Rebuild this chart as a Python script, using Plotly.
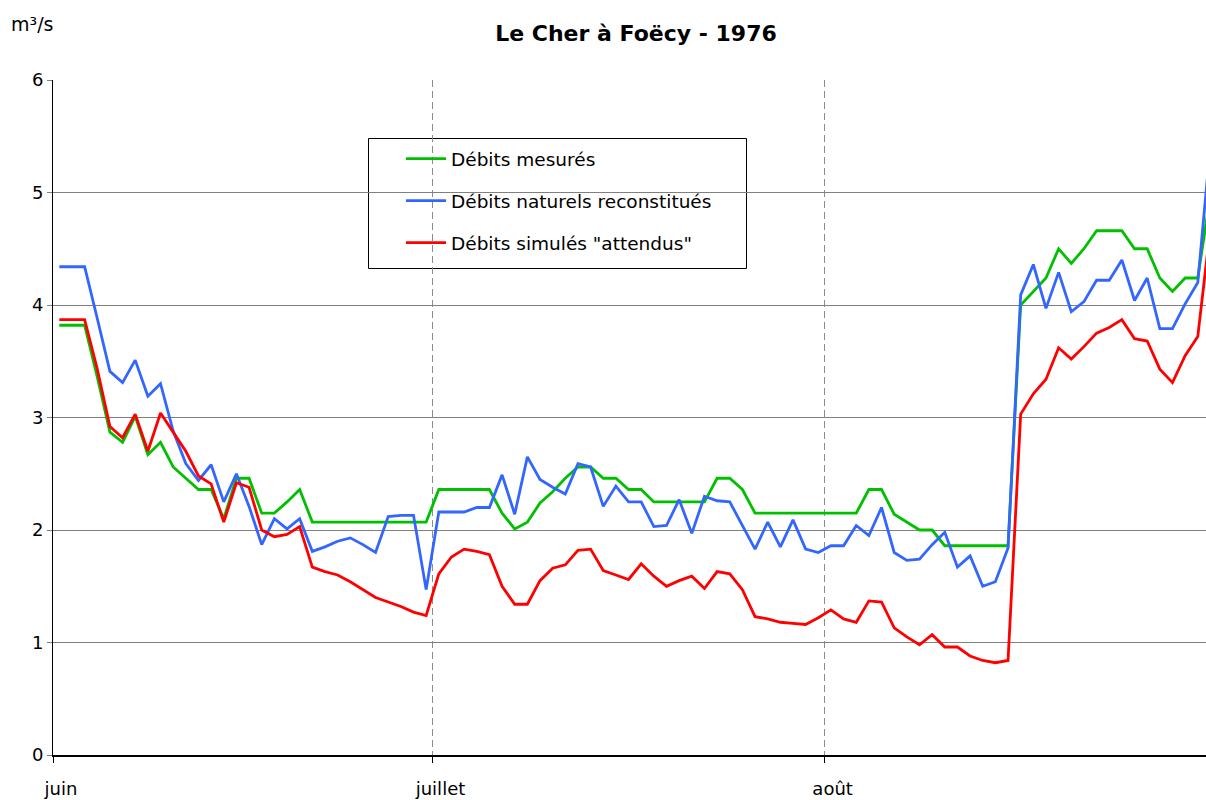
import pandas as pd
import plotly.graph_objects as go

# Daily values, 1 June 1976 -> 31 August 1976 (plotted at mid-day)
dates = pd.date_range("1976-06-01 12:00", periods=92, freq="D")

mesures = [3.82, 3.82, 3.82, 3.36, 2.87, 2.78, 3.01, 2.67, 2.78, 2.56,
           2.46, 2.36, 2.36, 2.10, 2.46, 2.46, 2.15, 2.15, 2.25, 2.36,
           2.07, 2.07, 2.07, 2.07, 2.07, 2.07, 2.07, 2.07, 2.07, 2.07,
           2.36, 2.36, 2.36, 2.36, 2.36, 2.15, 2.01, 2.07, 2.24, 2.34,
           2.46, 2.56, 2.56, 2.46, 2.46, 2.36, 2.36, 2.25, 2.25, 2.25,
           2.25, 2.25, 2.46, 2.46, 2.36, 2.15, 2.15, 2.15, 2.15, 2.15,
           2.15, 2.15, 2.15, 2.15, 2.36, 2.36, 2.14, 2.07, 2.00, 2.00,
           1.86, 1.86, 1.86, 1.86, 1.86, 1.86, 4.00, 4.12, 4.24, 4.50,
           4.37, 4.50, 4.66, 4.66, 4.66, 4.50, 4.50, 4.24, 4.12, 4.24,
           4.24, 4.98]

naturels = [4.34, 4.34, 4.34, 3.88, 3.41, 3.31, 3.51, 3.19, 3.30, 2.88,
            2.59, 2.44, 2.58, 2.25, 2.50, 2.21, 1.87, 2.10, 2.01, 2.10,
            1.81, 1.85, 1.90, 1.93, 1.87, 1.80, 2.12, 2.13, 2.13, 1.47,
            2.16, 2.16, 2.16, 2.20, 2.20, 2.49, 2.14, 2.65, 2.45, 2.38,
            2.32, 2.59, 2.56, 2.21, 2.39, 2.25, 2.25, 2.03, 2.04, 2.27,
            1.97, 2.30, 2.26, 2.25, 2.04, 1.83, 2.07, 1.85, 2.09, 1.83,
            1.80, 1.86, 1.86, 2.04, 1.95, 2.20, 1.80, 1.73, 1.74, 1.87,
            1.98, 1.67, 1.77, 1.50, 1.54, 1.84, 4.09, 4.36, 3.97, 4.29,
            3.94, 4.03, 4.22, 4.22, 4.40, 4.04, 4.24, 3.79, 3.79, 4.01,
            4.20, 5.43]

simules = [3.87, 3.87, 3.87, 3.43, 2.92, 2.82, 3.03, 2.70, 3.04, 2.87,
           2.70, 2.48, 2.41, 2.07, 2.42, 2.38, 2.00, 1.94, 1.96, 2.03,
           1.67, 1.63, 1.60, 1.54, 1.47, 1.40, 1.36, 1.32, 1.27, 1.24,
           1.61, 1.76, 1.83, 1.81, 1.78, 1.50, 1.34, 1.34, 1.55, 1.66,
           1.69, 1.82, 1.83, 1.64, 1.60, 1.56, 1.70, 1.59, 1.50, 1.55,
           1.59, 1.48, 1.63, 1.61, 1.47, 1.23, 1.21, 1.18, 1.17, 1.16,
           1.22, 1.29, 1.21, 1.18, 1.37, 1.36, 1.13, 1.05, 0.98, 1.07,
           0.96, 0.96, 0.88, 0.84, 0.82, 0.84, 3.03, 3.21, 3.34, 3.62,
           3.52, 3.63, 3.75, 3.80, 3.87, 3.70, 3.68, 3.43, 3.31, 3.55,
           3.72, 4.69]

month_ticks = ["1976-06-01", "1976-07-01", "1976-08-01"]
month_labels = ["juin", "juillet", "août"]
y_ticks = [0, 1, 2, 3, 4, 5, 6]

series = [
    ("Débits mesurés", mesures, "#00C000"),
    ("Débits naturels reconstitués", naturels, "#3366FF"),
    ("Débits simulés \"attendus\"", simules, "#FF0000"),
]

FONT = "DejaVu Sans"

fig = go.Figure()
for i, (name, vals, col) in enumerate(series):
    fig.add_trace(go.Scatter(
        x=dates, y=vals, mode="lines", name=name,
        line=dict(color=col, width=2.8),
        legendgroup=f"g{i}",
    ))

W, H = 1206, 800
L, R, T, B = 53, 0, 80, 45
pw, ph = W - L - R, H - T - B

def px_x(p):
    return (p - L) / pw

def px_y(p):
    return (H - B - p) / ph

fig.update_layout(
    width=W, height=H,
    margin=dict(l=L, r=R, t=T, b=B, pad=0),
    paper_bgcolor="white", plot_bgcolor="white",
    font=dict(family=FONT, size=18, color="black"),
    title=dict(text="<b>Le Cher à Foëcy - 1976</b>", x=636 / W, xanchor="center",
               y=1 - 33 / H, yanchor="middle",
               font=dict(family=FONT, size=22, color="black")),
    xaxis=dict(
        type="date",
        range=["1976-06-01 00:00", "1976-08-31 03:36"],
        tickvals=month_ticks, ticktext=month_labels,
        showgrid=True, gridcolor="#8c8c8c", griddash="7px,4px", gridwidth=1,
        showline=True, linecolor="black", linewidth=1.5,
        ticks="outside", ticklen=6, tickcolor="black",
        ticklabelshift=8, ticklabelstandoff=11,
        tickfont=dict(family=FONT, size=18),
        zeroline=False, fixedrange=True,
    ),
    yaxis=dict(
        range=[0, 6], tickvals=y_ticks,
        showgrid=True, gridcolor="#808080", gridwidth=1,
        showline=True, linecolor="black", linewidth=1,
        ticks="outside", ticklen=5, tickcolor="#808080",
        tickfont=dict(family=FONT, size=18),
        zeroline=False, fixedrange=True,
    ),
    showlegend=True,
    legend=dict(
        x=px_x(401), y=px_y(140), xanchor="left", yanchor="top",
        bgcolor="rgba(0,0,0,0)", borderwidth=0,
        font=dict(family=FONT, size=18.5),
        tracegroupgap=15, itemwidth=40,
    ),
    shapes=[dict(
        type="rect", xref="paper", yref="paper",
        x0=px_x(368.5), x1=px_x(746.5), y0=px_y(268.5), y1=px_y(138.5),
        line=dict(color="black", width=1), fillcolor="white", layer="below",
    )],
    annotations=[dict(
        text="m³/s", xref="paper", yref="paper",
        x=px_x(9), y=px_y(24), xanchor="left", yanchor="middle",
        showarrow=False, font=dict(family=FONT, size=19, color="black"),
    )],
)

fig.write_html("out.html", config={"displayModeBar": False},
               post_script="document.body.style.margin='0';")
